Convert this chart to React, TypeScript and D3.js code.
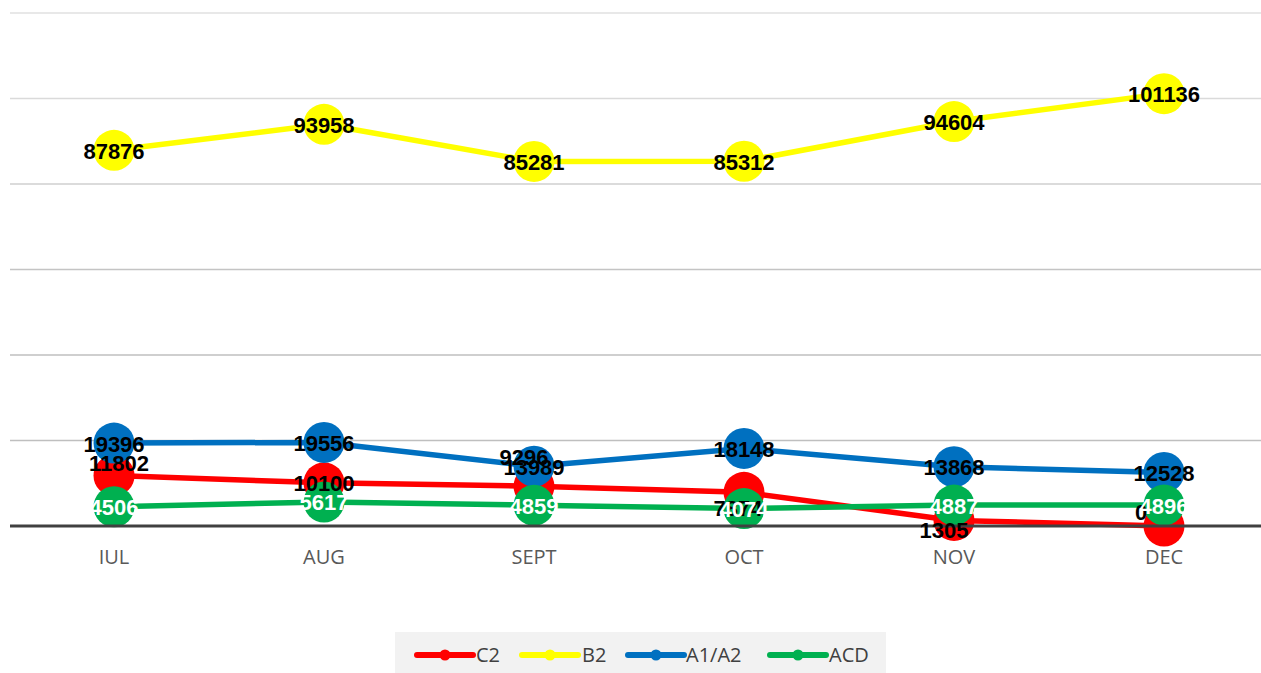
import React from "react";
import * as d3 from "d3";

const months = ["IUL", "AUG", "SEPT", "OCT", "NOV", "DEC"];
const c2 = [11802, 10100, 9296, 7874, 1305, 0];
const b2 = [87876, 93958, 85281, 85312, 94604, 101136];
const a1a2 = [19396, 19556, 13989, 18148, 13868, 12528];
const acd = [4506, 5617, 4859, 4074, 4887, 4896];
const yTicks = [0, 20000, 40000, 60000, 80000, 100000, 120000];

// label nudges (pixels) for the C2 series, matching the reference placement
const c2LabelShift: [number, number][] = [[5, -12], [0, 1], [-10, -29], [-6, 16], [-10, 10], [-23, -14]];

const W = 1261;
const H = 673;
const plotLeft = 10;
const plotRight = 1261;
const yTop = 13;
const yBottom = 526;

const series = [
  { name: "C2", values: c2, color: "#ff0000", text: "#000000", shift: c2LabelShift },
  { name: "B2", values: b2, color: "#ffff00", text: "#000000", shift: null },
  { name: "A1/A2", values: a1a2, color: "#0070c0", text: "#000000", shift: null },
  { name: "ACD", values: acd, color: "#00b050", text: "#ffffff", shift: null },
];

const gridColors = ["#404040", "#bfbfbf", "#bfbfbf", "#c4c4c4", "#cfcfcf", "#dadada", "#e0e0e0"];

export default function App() {
  const x = d3.scaleBand<string>().domain(months).range([9, 1269]);
  const y = d3.scaleLinear().domain([0, 120000]).range([yBottom, yTop]);
  const cx = (m: string) => (x(m) as number) + x.bandwidth() / 2;
  const line = d3
    .line<number>()
    .x((_, i) => cx(months[i]))
    .y((v) => y(v));

  const legendItems = [
    { name: "C2", color: "#ff0000", x0: 417, tx: 476 },
    { name: "B2", color: "#ffff00", x0: 522, tx: 582 },
    { name: "A1/A2", color: "#0070c0", x0: 628, tx: 686 },
    { name: "ACD", color: "#00b050", x0: 770, tx: 829 },
  ];

  return (
    <div style={{ position: "absolute", left: 0, top: 0 }}>
      <svg width={W} height={H} style={{ display: "block", background: "#ffffff" }}>
        {yTicks.slice(1).map((t, i) => (
          <line key={t} x1={plotLeft} x2={plotRight} y1={y(t)} y2={y(t)} stroke={gridColors[i + 1]} strokeWidth={1.6} />
        ))}
        {series.map((s) => (
          <g key={s.name}>
            <path d={line(s.values) as string} fill="none" stroke={s.color} strokeWidth={5.5} strokeLinejoin="round" />
          </g>
        ))}
        {series.map((s) => (
          <g key={s.name + "m"}>
            {s.values.map((v, i) => (
              <circle key={i} cx={cx(months[i])} cy={y(v)} r={20.5} fill={s.color} />
            ))}
          </g>
        ))}
        <line x1={plotLeft} x2={plotRight} y1={y(0)} y2={y(0)} stroke="#404040" strokeWidth={3} />
        {series.map((s) => (
          <g key={s.name + "l"}>
            {s.values.map((v, i) => {
              const sh = s.shift ? s.shift[i] : [0, 1];
              return (
                <text
                  key={i}
                  x={cx(months[i]) + sh[0]}
                  y={y(v) + sh[1]}
                  textAnchor="middle"
                  dominantBaseline="central"
                  fontFamily="'Liberation Sans', Arial, sans-serif"
                  fontWeight="bold"
                  fontSize={22}
                  fill={s.text}
                >
                  {v}
                </text>
              );
            })}
          </g>
        ))}
        {months.map((m) => (
          <text key={m} x={cx(m)} y={564} textAnchor="middle" fontFamily="'Open Sans', sans-serif" fontSize={20} fill="#595959">
            {m}
          </text>
        ))}
        <rect x={395} y={632} width={491} height={41} fill="#f2f2f2" />
        {legendItems.map((l) => (
          <g key={l.name}>
            <line x1={l.x0} x2={l.x0 + 56} y1={655} y2={655} stroke={l.color} strokeWidth={6} strokeLinecap="round" />
            <circle cx={l.x0 + 28} cy={655} r={5.5} fill={l.color} />
            <text x={l.tx} y={662} fontFamily="'Open Sans', sans-serif" fontSize={20} fill="#404040">
              {l.name}
            </text>
          </g>
        ))}
      </svg>
    </div>
  );
}
